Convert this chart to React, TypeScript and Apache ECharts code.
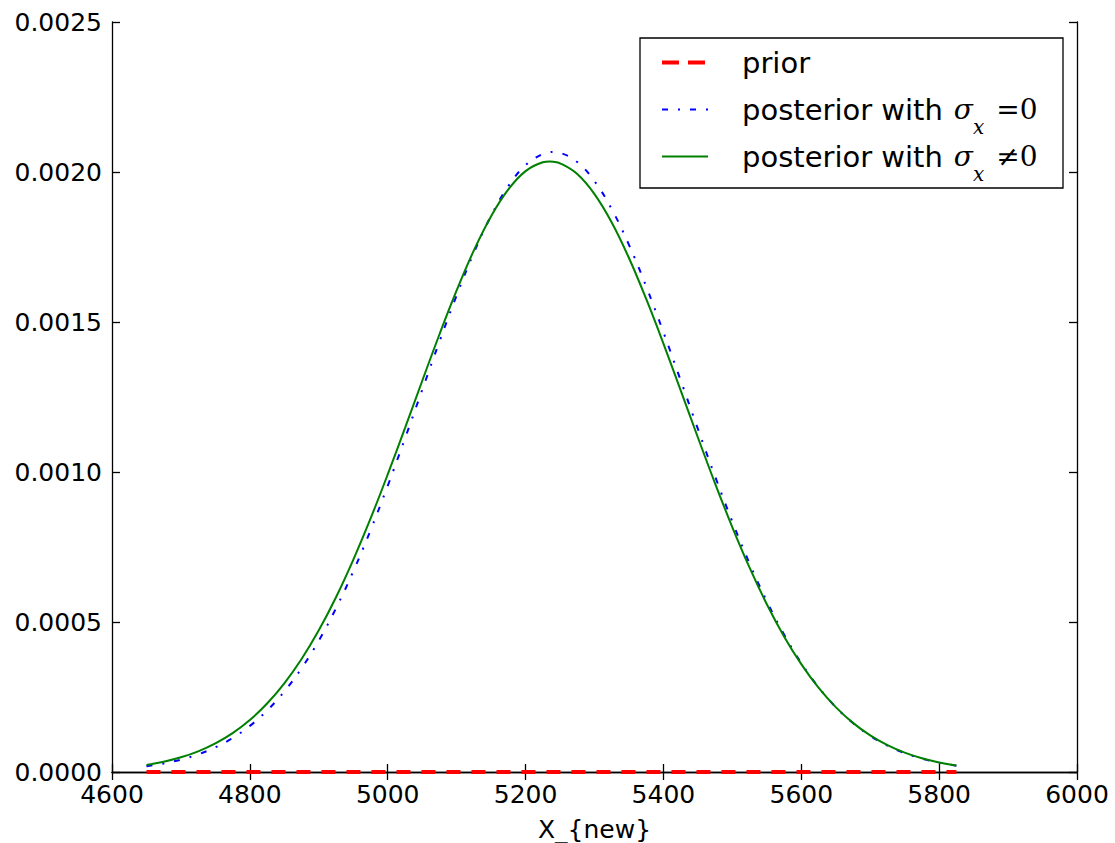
import React, { useEffect, useRef } from "react";
import * as echarts from "echarts";

const xValues = [
  4650, 4675, 4700, 4725, 4750, 4775, 4800, 4825, 4850, 4875, 4900, 4925, 4950, 4975,
  5000, 5025, 5050, 5075, 5100, 5125, 5150, 5175, 5200, 5225, 5235, 5240, 5250, 5275,
  5300, 5325, 5350, 5375, 5400, 5425, 5450, 5475, 5500, 5525, 5550, 5575, 5600, 5625,
  5650, 5675, 5700, 5725, 5750, 5775, 5800, 5825,
];

const priorValues = xValues.map(() => 0.0000001);

const posteriorZero = [
  0.0000193, 0.0000285, 0.0000413, 0.0000588, 0.0000823, 0.0001135, 0.0001537, 0.0002048,
  0.0002683, 0.0003458, 0.000438, 0.0005457, 0.0006685, 0.0008053, 0.0009539, 0.0011114,
  0.0012733, 0.0014343, 0.0015887, 0.0017309, 0.0018541, 0.0019531, 0.0020232, 0.0020608,
  0.0020663, 0.002067, 0.0020642, 0.0020333, 0.0019694, 0.001876, 0.0017572, 0.0016185,
  0.0014659, 0.0013057, 0.0011435, 0.0009849, 0.0008342, 0.0006947, 0.0005691, 0.0004583,
  0.000363, 0.0002826, 0.0002164, 0.000163, 0.0001207, 0.0000879, 0.000063, 0.0000443,
  0.0000307, 0.0000209,
];

const posteriorNonZero = [
  0.0000237, 0.0000343, 0.000049, 0.0000689, 0.0000953, 0.0001296, 0.0001733, 0.0002282,
  0.0002957, 0.0003767, 0.0004723, 0.0005826, 0.0007072, 0.0008443, 0.0009919, 0.0011463,
  0.0013034, 0.0014583, 0.0016052, 0.0017385, 0.0018525, 0.0019418, 0.0020029, 0.0020324,
  0.002035, 0.0020343, 0.0020291, 0.0019931, 0.0019261, 0.0018315, 0.0017133, 0.0015767,
  0.001428, 0.0012721, 0.001115, 0.0009615, 0.0008158, 0.0006811, 0.0005594, 0.000452,
  0.0003594, 0.000281, 0.0002163, 0.0001638, 0.000122, 0.0000894, 0.0000645, 0.0000457,
  0.0000319, 0.0000219,
];

const xTicks = { min: 4600, max: 6000, interval: 200 };
const yTicks = { min: 0, max: 0.0025, interval: 0.0005 };

const seriesNames = ["prior", "posterior with σx =0", "posterior with σx ≠0"];
const legendLabels: Record<string, string> = {
  [seriesNames[0]]: "{t|prior}{x| }",
  [seriesNames[1]]: "{t|posterior with}{s|σ}{x|x}{e|=0}",
  [seriesNames[2]]: "{t|posterior with}{s|σ}{x|x}{e|≠0}",
};

const FONT = "DejaVu Sans";
const SERIF = "DejaVu Serif";

export default function App() {
  const ref = useRef<HTMLDivElement>(null);
  useEffect(() => {
    if (!ref.current) return;
    const chart = echarts.init(ref.current, null, { renderer: "svg" });
    const pair = (arr: number[]) => xValues.map((x, i) => [x, arr[i]]);
    const axisLine = { show: true, lineStyle: { color: "#000", width: 1.3 } };
    const tick = { show: true, inside: true, length: 8, lineStyle: { color: "#000", width: 1.3 } };
    chart.setOption({
      animation: false,
      backgroundColor: "#fff",
      grid: {
        left: 112,
        right: 38,
        top: 22,
        bottom: 71,
        containLabel: false,
        outerBoundsMode: "none",
      },
      xAxis: [
        {
          type: "value",
          ...xTicks,
          position: "bottom",
          axisLine,
          axisTick: tick,
          splitLine: { show: false },
          axisLabel: {
            color: "#000",
            fontSize: 25,
            fontFamily: FONT,
            margin: 10,
            formatter: (v: number) => String(v),
          },
          name: "X_{new}",
          nameLocation: "middle",
          nameGap: 45,
          nameTextStyle: { color: "#000", fontSize: 25, fontFamily: FONT },
        },
        {
          type: "value",
          ...xTicks,
          position: "top",
          axisLine,
          axisTick: tick,
          splitLine: { show: false },
          axisLabel: { show: false },
        },
      ],
      yAxis: [
        {
          type: "value",
          ...yTicks,
          position: "left",
          axisLine,
          axisTick: tick,
          splitLine: { show: false },
          axisLabel: {
            color: "#000",
            fontSize: 25,
            fontFamily: FONT,
            margin: 10,
            formatter: (v: number) => v.toFixed(4),
          },
        },
        {
          type: "value",
          ...yTicks,
          position: "right",
          axisLine,
          axisTick: tick,
          splitLine: { show: false },
          axisLabel: { show: false },
        },
      ],
      legend: {
        orient: "vertical",
        left: 660,
        top: 48,
        padding: 0,
        itemWidth: 46,
        itemHeight: 20,
        itemGap: 5.5,
        data: [
          { name: seriesNames[0], lineStyle: { width: 4, type: [17, 9] } },
          { name: seriesNames[1] },
          { name: seriesNames[2] },
        ],
        itemStyle: { opacity: 0 },
        formatter: (name: string) => legendLabels[name],
        textStyle: {
          color: "#000",
          fontSize: 29,
          fontFamily: FONT,
          rich: {
            t: { fontSize: 29, fontFamily: FONT, color: "#000", lineHeight: 30, padding: [0, 0, 0, 29] },
            s: {
              fontSize: 28,
              fontFamily: SERIF,
              fontStyle: "italic",
              color: "#000",
              lineHeight: 30,
              padding: [0, 0, 0, 11],
            },
            x: {
              fontSize: 20,
              fontFamily: SERIF,
              fontStyle: "italic",
              color: "#000",
              lineHeight: 54,
              verticalAlign: "bottom",
            },
            e: { fontSize: 28, fontFamily: SERIF, color: "#000", lineHeight: 30, padding: [0, 0, 0, 12] },
          },
        },
      },
      graphic: [
        {
          type: "rect",
          shape: { x: 640, y: 38, width: 423, height: 150 },
          style: { fill: "none", stroke: "#000", lineWidth: 1.3 },
          z: 100,
        },
      ],
      series: [
        {
          name: seriesNames[0],
          type: "line",
          data: pair(priorValues),
          symbol: "none",
          lineStyle: { color: "#ff0000", width: 4, type: [14, 11] },
          itemStyle: { color: "#ff0000" },
          z: 3,
        },
        {
          name: seriesNames[1],
          type: "line",
          data: pair(posteriorZero),
          symbol: "none",
          smooth: 0.4,
          lineStyle: { color: "#0000ff", width: 2, type: [6, 10, 2, 10] },
          itemStyle: { color: "#0000ff" },
          z: 4,
        },
        {
          name: seriesNames[2],
          type: "line",
          data: pair(posteriorNonZero),
          symbol: "none",
          smooth: 0.4,
          lineStyle: { color: "#008000", width: 2 },
          itemStyle: { color: "#008000" },
          z: 5,
        },
      ],
    });
    return () => chart.dispose();
  }, []);
  return (
    <div
      ref={ref}
      style={{ position: "absolute", left: 0, top: 0, width: 1115, height: 843 }}
    />
  );
}
